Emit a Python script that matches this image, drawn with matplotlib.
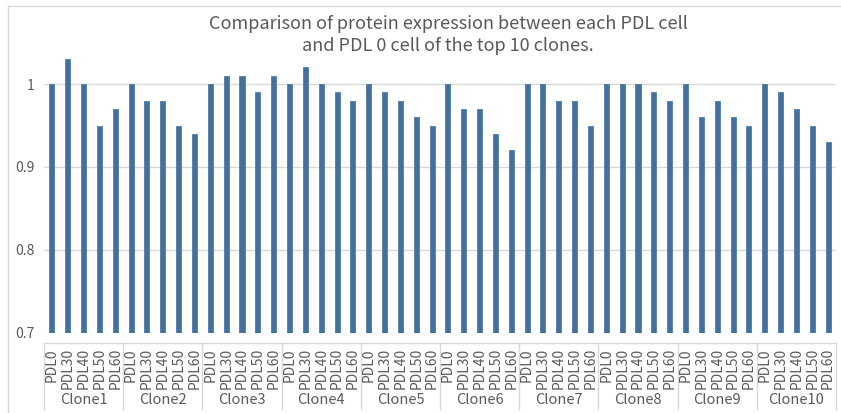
import matplotlib
matplotlib.use("Agg")
import matplotlib.pyplot as plt
from matplotlib.lines import Line2D
import numpy as np

plt.rcParams['font.family'] = ['Noto Sans CJK SC', 'DejaVu Sans']
plt.rcParams['font.weight'] = 'light'

clones = ["Clone1", "Clone2", "Clone3", "Clone4", "Clone5",
          "Clone6", "Clone7", "Clone8", "Clone9", "Clone10"]
pdls = ["PDL0", "PDL30", "PDL40", "PDL50", "PDL60"]
values = [
    [1.00, 1.03, 1.00, 0.95, 0.97],
    [1.00, 0.98, 0.98, 0.95, 0.94],
    [1.00, 1.01, 1.01, 0.99, 1.01],
    [1.00, 1.02, 1.00, 0.99, 0.98],
    [1.00, 0.99, 0.98, 0.96, 0.95],
    [1.00, 0.97, 0.97, 0.94, 0.92],
    [1.00, 1.00, 0.98, 0.98, 0.95],
    [1.00, 1.00, 1.00, 0.99, 0.98],
    [1.00, 0.96, 0.98, 0.96, 0.95],
    [1.00, 0.99, 0.97, 0.95, 0.93],
]
title = "Comparison of protein expression between each PDL cell\nand PDL 0 cell of the top 10 clones."

W, H = 841, 413
fig = plt.figure(figsize=(W / 100, H / 100), dpi=100)
ax_left, ax_right = 44, 836
ax_bottom_px, ax_top_px = 333, 42.5
ax = fig.add_axes([ax_left / W, (H - ax_bottom_px) / H,
                   (ax_right - ax_left) / W, (ax_bottom_px - ax_top_px) / H])

flat = [v for row in values for v in row]
labels = [p for _ in clones for p in pdls]
x = np.arange(len(flat))
ymin = 0.7
ax.bar(x, np.array(flat) - ymin, bottom=ymin, width=0.32,
       color='#41719C', edgecolor='#41719C', linewidth=0.5, zorder=3)

ax.set_xlim(-0.5, len(flat) - 0.5)
ax.set_ylim(0.7, 1.05)
ax.set_yticks([0.7, 0.8, 0.9, 1.0])
ax.set_yticklabels(["0.7", "0.8", "0.9", "1"])
ax.tick_params(axis='y', length=0, pad=7, labelsize=10, labelcolor='#595959')
ax.set_xticks([])
for s in ax.spines.values():
    s.set_visible(False)
for yv in [0.8, 0.9, 1.0]:
    ax.axhline(yv, color='#D9D9D9', linewidth=1, zorder=1)

def frac(px):
    return (ax_bottom_px - px) / (ax_bottom_px - ax_top_px)

tr = ax.get_xaxis_transform()
y_top, y_bot = frac(343), frac(409)
ax.plot([-0.5, len(flat) - 0.5], [y_top, y_top], transform=tr,
        color='#D9D9D9', lw=1, clip_on=False)
n = len(pdls)
for i in range(len(clones) + 1):
    xs = i * n - 0.5
    ax.plot([xs, xs], [y_top, y_bot], transform=tr, color='#D9D9D9',
            lw=1, clip_on=False)
for xi, lab in zip(x, labels):
    ax.text(xi, frac(348), lab, transform=tr, rotation=90, ha='center',
            va='top', fontsize=10, color='#595959')
for i, c in enumerate(clones):
    ax.text(i * n + (n - 1) / 2, frac(400), c, transform=tr, ha='center',
            va='center', fontsize=10.5, color='#595959')

fig.text(448 / W, 1 - 35 / H, title, ha='center', va='center',
         fontsize=13, color='#595959', linespacing=1.25)

fig.add_artist(Line2D([8 / W, 8 / W], [0, 1 - 6 / H], color='#D9D9D9', lw=1))
fig.add_artist(Line2D([8 / W, 1], [1 - 6 / H, 1 - 6 / H], color='#D9D9D9', lw=1))

fig.savefig("out.png", dpi=100)
